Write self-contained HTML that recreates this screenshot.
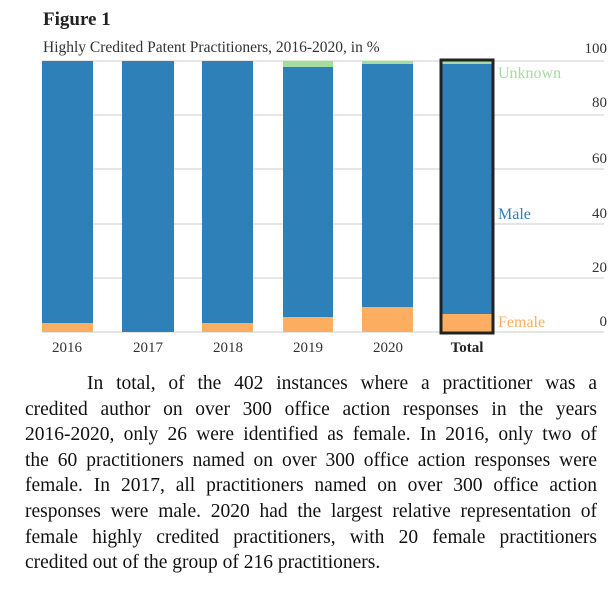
<!DOCTYPE html>
<html><head><meta charset="utf-8"><style>
body{margin:0;background:#fff;width:616px;height:593px;overflow:hidden;position:relative;font-family:"Liberation Serif",serif;}
.p{position:absolute;left:25px;top:371px;width:572px;margin:0;font-size:19.5px;line-height:25.6px;color:#111;}
.p div{text-align:justify;text-align-last:justify;white-space:nowrap;}
.p div.l{text-align-last:left;}
</style></head><body>
<svg width="616" height="360" style="position:absolute;left:0;top:0" font-family="Liberation Serif, serif">
<text x="43" y="25" font-size="19" font-weight="bold" fill="#222">Figure 1</text>
<text x="43" y="52" font-size="15.5" fill="#333">Highly Credited Patent Practitioners, 2016-2020, in %</text>
<g stroke="#ddd" stroke-width="1.5">
<line x1="42" x2="604" y1="61" y2="61"/><line x1="42" x2="604" y1="115" y2="115"/>
<line x1="42" x2="604" y1="169" y2="169"/><line x1="42" x2="604" y1="224" y2="224"/>
<line x1="42" x2="604" y1="278" y2="278"/><line x1="42" x2="604" y1="332" y2="332"/>
</g>
<g font-size="15" fill="#333" text-anchor="end">
<text x="607" y="53">100</text><text x="607" y="107">80</text><text x="607" y="163">60</text>
<text x="607" y="218">40</text><text x="607" y="272">20</text><text x="607" y="326">0</text>
</g>
<g fill="#2e81b8">
<rect x="42" y="61" width="51" height="271"/><rect x="122" y="61" width="52" height="271"/>
<rect x="202" y="61" width="51" height="271"/><rect x="283" y="61" width="50" height="271"/>
<rect x="362" y="61" width="51" height="271"/><rect x="442" y="61" width="50" height="271"/>
</g>
<g fill="#a6dba0">
<rect x="283" y="61" width="50" height="6"/><rect x="362" y="61" width="51" height="3"/><rect x="442" y="61" width="50" height="3"/>
</g>
<g fill="#fdae61">
<rect x="42" y="323" width="51" height="9"/><rect x="202" y="323" width="51" height="9"/>
<rect x="283" y="317" width="50" height="15"/><rect x="362" y="307" width="51" height="25"/>
<rect x="442" y="314" width="50" height="18"/>
</g>
<rect x="441" y="60" width="52" height="273" fill="none" stroke="#222" stroke-width="3"/>
<text x="498" y="78" font-size="16" fill="#a6dba0">Unknown</text>
<text x="498" y="219" font-size="16" fill="#2e81b8">Male</text>
<text x="498" y="327" font-size="16" fill="#fdae61">Female</text>
<g font-size="15" fill="#333" text-anchor="middle">
<text x="67" y="352">2016</text><text x="148" y="352">2017</text><text x="228" y="352">2018</text>
<text x="308" y="352">2019</text><text x="388" y="352">2020</text>
<text x="467" y="352" font-weight="bold" fill="#222">Total</text>
</g>
</svg>
<div class="p">
<div style="padding-left:62px">In total, of the 402 instances where a practitioner was a</div>
<div>credited author on over 300 office action responses in the years</div>
<div>2016-2020, only 26 were identified as female. In 2016, only two of</div>
<div>the 60 practitioners named on over 300 office action responses were</div>
<div>female. In 2017, all practitioners named on over 300 office action</div>
<div>responses were male. 2020 had the largest relative representation of</div>
<div>female highly credited practitioners, with 20 female practitioners</div>
<div class="l">credited out of the group of 216 practitioners.</div>
</div>
</body></html>
